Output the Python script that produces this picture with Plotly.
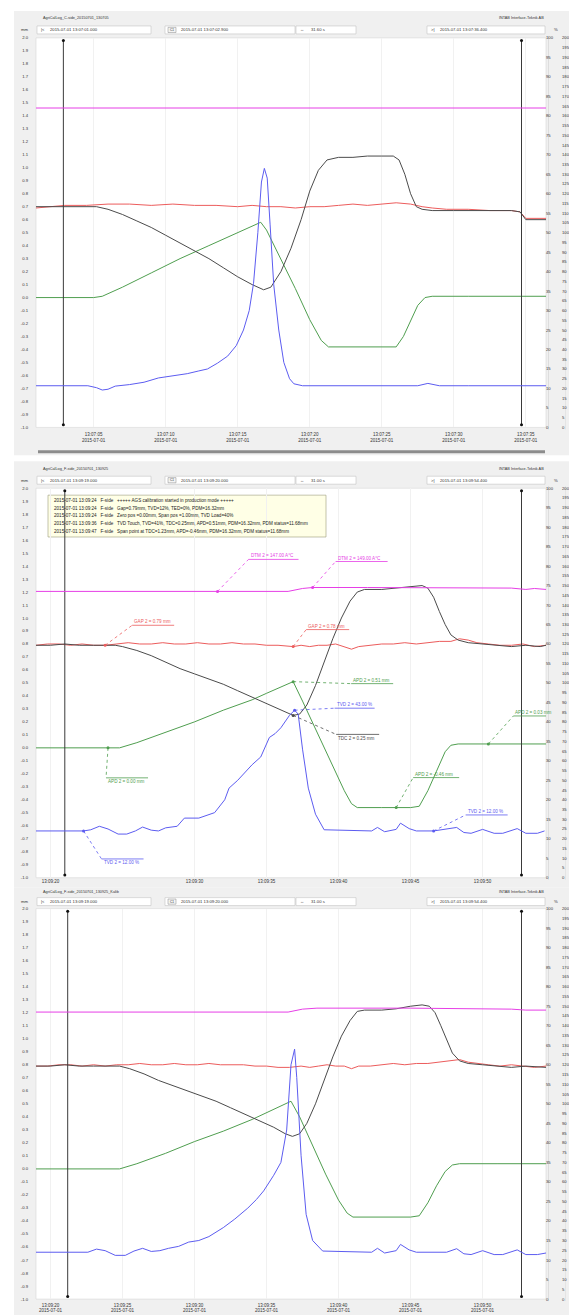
import plotly.graph_objects as go
import pandas as pd

W, H = 577, 1315
FONT = "Liberation Sans, DejaVu Sans, Arial"

# ======================= DATA =======================
# ---- Panel 1 : C-side, seconds after 2015-07-01 13:07:00 ----
p1_pink_t = [1.0, 8.0, 16.0, 24.0, 32.0, 36.4]
p1_pink_c = [164.0, 164.0, 164.0, 164.0, 164.0, 164.0]
p1_red_t = [1.0, 2.0, 3.0, 4.5, 6.0, 7.5, 9.0, 10.5, 12.0, 13.5, 15.0, 16.0, 17.0, 18.0, 19.0,
            20.0, 21.0, 22.0, 23.0, 24.0, 25.0, 26.0, 27.0, 27.8, 28.5, 29.5, 31.0, 32.5, 34.0,
            34.6, 35.0, 35.6, 36.4]
p1_red_mm = [0.69, 0.70, 0.71, 0.71, 0.72, 0.72, 0.71, 0.72, 0.71, 0.71, 0.70, 0.71, 0.70, 0.70,
             0.69, 0.70, 0.70, 0.71, 0.72, 0.71, 0.72, 0.73, 0.72, 0.70, 0.69, 0.68, 0.68, 0.67,
             0.67, 0.66, 0.61, 0.61, 0.61]
p1_black_t = [1.0, 3.0, 5.2, 6.0, 7.0, 8.0, 9.0, 10.0, 11.0, 12.0, 13.0, 14.0, 15.0, 16.0, 16.8,
              17.3, 18.0, 18.7, 19.4, 20.0, 20.6, 21.2, 22.0, 23.0, 24.0, 25.0, 25.8, 26.2, 26.6,
              27.0, 27.4, 27.8, 28.5, 30.0, 32.0, 34.0, 34.6, 35.0, 36.4]
p1_black_mm = [0.70, 0.70, 0.70, 0.68, 0.64, 0.59, 0.54, 0.48, 0.42, 0.36, 0.30, 0.23, 0.16, 0.10,
               0.06, 0.08, 0.20, 0.38, 0.60, 0.82, 0.98, 1.06, 1.08, 1.08, 1.09, 1.09, 1.09, 1.06,
               0.95, 0.80, 0.70, 0.68, 0.67, 0.67, 0.67, 0.67, 0.66, 0.60, 0.60]
p1_green_t = [1.0, 5.0, 5.6, 7.0, 9.0, 11.0, 13.0, 15.0, 16.0, 16.6, 17.0, 18.0, 19.0, 20.0, 20.8,
              21.3, 23.0, 25.0, 26.0, 26.5, 27.0, 27.5, 28.0, 28.5, 31.0, 34.0, 36.4]
p1_green_mm = [0.0, 0.0, 0.01, 0.08, 0.19, 0.30, 0.40, 0.50, 0.55, 0.58, 0.52, 0.30, 0.07, -0.17,
               -0.33, -0.38, -0.38, -0.38, -0.38, -0.30, -0.18, -0.06, 0.0, 0.01, 0.01, 0.01, 0.01]
p1_blue_t = [1.0, 4.6, 5.2, 5.6, 6.0, 6.5, 7.5, 8.5, 9.5, 10.5, 11.5, 12.3, 12.9, 13.6, 14.3, 14.9,
             15.4, 15.8, 16.1, 16.4, 16.65, 16.85, 17.05, 17.25, 17.5, 17.85, 18.2, 18.6, 18.9,
             19.5, 22.0, 24.0, 26.0, 27.5, 28.2, 29.0, 31.0, 34.0, 36.4]
p1_blue_pct = [10.7, 10.7, 10.2, 9.6, 9.8, 10.6, 11.0, 11.6, 12.7, 13.3, 13.8, 14.5, 15.0, 16.5,
               18.3, 21.0, 25.0, 30.0, 37.0, 50.0, 63.0, 66.5, 64.0, 52.0, 36.7, 25.0, 16.7, 12.5,
               11.2, 10.7, 10.7, 10.7, 10.7, 10.7, 11.3, 10.7, 10.7, 10.7, 10.7]
p1_cursor_t = [2.9, 34.7]
p1_tick_t = [5, 10, 15, 20, 25, 30, 35]

# ---- Panel 2 : F-side, seconds after 2015-07-01 13:09:00 ----
p2_pink_t = [19.0, 25.0, 30.0, 36.5, 37.5, 38.2, 42.0, 46.0, 50.0, 52.0, 53.0, 53.6, 54.4]
p2_pink_c = [147.0, 147.0, 147.0, 147.0, 148.5, 149.0, 149.0, 149.0, 149.0, 148.7, 148.0, 148.5, 148.0]
p2_red_t = [19.0, 19.8, 20.6, 21.4, 22.2, 23.0, 23.8, 24.6, 25.4, 26.2, 27.0, 27.8, 28.6, 29.4,
            30.2, 31.0, 31.8, 32.6, 33.4, 34.2, 35.0, 35.8, 36.85, 37.4, 38.0, 38.6, 39.2, 39.8,
            40.4, 40.9, 41.4, 42.2, 43.0, 43.8, 44.6, 45.4, 46.2, 47.0, 47.8, 48.4, 49.0, 49.6,
            50.4, 51.2, 52.0, 52.8, 53.6, 54.4]
p2_red_mm = [0.79, 0.80, 0.80, 0.79, 0.80, 0.79, 0.79, 0.80, 0.81, 0.80, 0.80, 0.81, 0.80, 0.80,
             0.81, 0.80, 0.80, 0.81, 0.80, 0.80, 0.79, 0.79, 0.78, 0.79, 0.78, 0.79, 0.79, 0.80,
             0.78, 0.76, 0.78, 0.79, 0.80, 0.80, 0.81, 0.80, 0.81, 0.82, 0.82, 0.84, 0.83, 0.81,
             0.80, 0.79, 0.79, 0.80, 0.78, 0.79]
p2_black_t = [19.0, 20.0, 21.0, 22.0, 23.0, 23.8, 24.5, 25.0, 26.0, 27.0, 28.0, 29.0, 30.0, 31.0,
              32.0, 33.0, 34.0, 35.0, 36.0, 36.85, 37.3, 37.8, 38.4, 39.0, 39.6, 40.2, 40.8, 41.3,
              41.8, 43.0, 44.0, 45.0, 45.8, 46.2, 46.6, 47.0, 47.4, 47.8, 48.3, 49.0, 50.0, 51.0,
              52.0, 53.0, 54.0, 54.4]
p2_black_mm = [0.79, 0.79, 0.80, 0.79, 0.79, 0.79, 0.79, 0.78, 0.75, 0.71, 0.66, 0.61, 0.57, 0.53,
               0.49, 0.44, 0.39, 0.34, 0.29, 0.25, 0.26, 0.33, 0.48, 0.66, 0.84, 1.00, 1.13, 1.20,
               1.22, 1.22, 1.23, 1.24, 1.25, 1.23, 1.16, 1.05, 0.95, 0.87, 0.83, 0.81, 0.80, 0.79,
               0.78, 0.79, 0.78, 0.79]
p2_green_t = [19.0, 24.0, 24.8, 26.0, 28.0, 30.0, 32.0, 34.0, 35.0, 36.0, 36.85, 37.5, 38.5, 39.5,
              40.4, 40.9, 41.3, 43.0, 44.0, 45.0, 45.6, 46.2, 46.8, 47.4, 47.8, 48.3, 50.4, 54.4]
p2_green_mm = [0.0, 0.0, 0.0, 0.04, 0.12, 0.20, 0.29, 0.37, 0.42, 0.47, 0.51, 0.36, 0.12, -0.11,
               -0.33, -0.43, -0.46, -0.46, -0.46, -0.46, -0.45, -0.33, -0.18, -0.03, 0.02, 0.03,
               0.03, 0.03]
p2_blue_t = [19.0, 22.3, 22.8, 23.4, 24.0, 24.7, 25.3, 25.9, 26.4, 27.0, 27.5, 28.0, 28.8, 29.3,
             30.3, 30.8, 31.4, 32.1, 32.4, 33.0, 33.5, 34.0, 34.6, 35.2, 35.6, 36.0, 36.6, 36.95,
             37.2, 37.5, 37.9, 38.4, 39.0, 42.3, 42.7, 43.2, 44.0, 44.3, 44.9, 45.4, 46.6, 48.2,
             48.7, 49.2, 50.0, 50.8, 51.4, 52.4, 53.0, 53.8, 54.3]
p2_blue_pct = [12.0, 12.0, 12.3, 13.2, 12.5, 11.2, 11.2, 12.0, 13.0, 12.2, 12.0, 12.8, 13.2, 15.3,
               15.3, 16.0, 16.7, 20.0, 23.0, 25.0, 27.0, 29.0, 31.0, 36.0, 37.0, 38.5, 41.7, 43.0,
               42.0, 33.0, 23.0, 16.3, 12.3, 12.0, 12.9, 11.8, 12.4, 14.0, 12.6, 12.0, 12.0, 12.9,
               11.6, 11.4, 12.4, 11.4, 11.4, 12.6, 11.4, 11.4, 12.0]
p2_cursor_t = [21.0, 52.7]
p2_tick_t = [20, 30, 35, 40, 45, 50]
# cursor read-outs shown in panel 2
p2_read_series = ["pink", "pink", "red", "red", "green", "blue", "black", "green", "green", "green", "blue", "blue"]
p2_read_t = [31.6, 38.2, 23.8, 36.85, 36.85, 36.95, 36.85, 24.0, 44.0, 50.4, 22.3, 46.6]
p2_read_v = [147.0, 149.0, 0.79, 0.78, 0.51, 43.0, 0.25, 0.00, -0.46, 0.03, 12.0, 12.0]
p2_log_lines = [
    "2015-07-01 13:09:24   F-side   +++++ AGS calibration started in production mode +++++",
    "2015-07-01 13:09:24   F-side   Gap=0.79mm, TVD=12%, TED=0%, PDM=16.32mm",
    "2015-07-01 13:09:24   F-side   Zero pos =0.00mm, Span pos =1.00mm, TVD Load=40%",
    "2015-07-01 13:09:36   F-side   TVD Touch, TVD=41%, TDC=0.25mm, APD=0.51mm, PDM=16.32mm, PDM status=11.68mm",
    "2015-07-01 13:09:47   F-side   Span point at TDC=1.23mm, APD=-0.46mm, PDM=16.32mm, PDM status=11.68mm",
]

# ---- Panel 3 : F-side, seconds after 2015-07-01 13:09:00 ----
p3_pink_t = [19.0, 25.0, 30.0, 36.5, 37.5, 38.5, 45.0, 50.0, 52.0, 53.0, 54.4]
p3_pink_c = [147.0, 147.0, 147.0, 147.0, 148.5, 149.0, 149.0, 148.8, 148.5, 148.0, 148.0]
p3_red_t = [19.0, 19.8, 20.6, 21.4, 22.2, 23.0, 23.8, 24.6, 25.4, 26.2, 27.0, 27.8, 28.6, 29.4,
            30.2, 31.0, 31.8, 32.6, 33.4, 34.2, 35.0, 35.8, 36.6, 37.4, 38.0, 38.6, 39.2, 39.8,
            40.4, 40.9, 41.4, 42.2, 43.0, 43.8, 44.6, 45.4, 46.2, 47.0, 47.8, 48.4, 49.0, 49.6,
            50.4, 51.2, 52.0, 52.8, 53.6, 54.4]
p3_red_mm = [0.79, 0.79, 0.80, 0.80, 0.79, 0.80, 0.79, 0.80, 0.80, 0.81, 0.80, 0.80, 0.81, 0.80,
             0.80, 0.81, 0.80, 0.80, 0.80, 0.79, 0.79, 0.78, 0.78, 0.79, 0.78, 0.79, 0.80, 0.79,
             0.79, 0.77, 0.79, 0.79, 0.80, 0.81, 0.80, 0.81, 0.81, 0.82, 0.83, 0.84, 0.82, 0.81,
             0.80, 0.79, 0.80, 0.79, 0.78, 0.79]
p3_black_t = [19.0, 20.0, 21.0, 22.0, 23.0, 24.0, 24.8, 25.5, 26.5, 27.5, 28.5, 29.5, 30.5, 31.5,
              32.5, 33.5, 34.5, 35.5, 36.3, 36.8, 37.3, 37.8, 38.4, 39.0, 39.6, 40.2, 40.8, 41.3,
              41.8, 43.0, 44.0, 45.0, 45.8, 46.3, 46.7, 47.1, 47.5, 47.9, 48.4, 49.0, 50.0, 51.0,
              52.0, 53.0, 54.4]
p3_black_mm = [0.79, 0.79, 0.80, 0.79, 0.79, 0.79, 0.79, 0.77, 0.73, 0.68, 0.64, 0.60, 0.56, 0.52,
               0.47, 0.42, 0.37, 0.32, 0.27, 0.25, 0.27, 0.35, 0.50, 0.68, 0.86, 1.02, 1.14, 1.21,
               1.22, 1.22, 1.23, 1.25, 1.26, 1.25, 1.20, 1.10, 0.99, 0.89, 0.83, 0.81, 0.80, 0.79,
               0.78, 0.79, 0.78]
p3_green_t = [19.0, 24.0, 24.8, 26.0, 28.0, 30.0, 32.0, 34.0, 35.0, 36.0, 36.7, 37.3, 38.2, 39.1,
              40.0, 40.6, 41.0, 43.0, 45.0, 45.6, 46.2, 46.8, 47.4, 47.9, 48.4, 51.0, 54.4]
p3_green_mm = [0.0, 0.0, 0.0, 0.04, 0.12, 0.21, 0.29, 0.38, 0.43, 0.48, 0.52, 0.40, 0.18, -0.04,
               -0.24, -0.34, -0.37, -0.37, -0.37, -0.36, -0.26, -0.13, -0.02, 0.03, 0.04, 0.04, 0.04]
p3_blue_t = [19.0, 22.6, 23.2, 23.8, 24.5, 25.2, 25.8, 26.4, 27.0, 27.6, 28.2, 28.9, 29.6, 30.3,
             31.0, 32.0, 32.8, 33.7, 34.3, 34.8, 35.5, 36.0, 36.4, 36.7, 36.95, 37.1, 37.4, 37.75,
             38.2, 38.9, 42.3, 42.7, 43.2, 44.0, 44.3, 44.9, 45.4, 47.5, 48.2, 48.7, 49.2, 50.0,
             50.8, 51.4, 52.4, 53.0, 53.8, 54.4]
p3_blue_pct = [12.0, 12.0, 12.8, 12.4, 11.2, 11.2, 12.3, 13.0, 12.2, 12.4, 13.0, 13.5, 14.6, 15.0,
               16.0, 18.3, 20.5, 23.3, 25.5, 27.7, 31.7, 35.0, 43.3, 60.0, 64.0, 56.7, 36.7, 21.7,
               15.0, 12.3, 12.0, 13.0, 11.8, 12.4, 14.0, 12.6, 12.0, 12.0, 12.9, 11.6, 11.4, 12.4,
               11.4, 11.4, 12.6, 11.4, 11.4, 11.8]
p3_cursor_t = [21.2, 52.7]
p3_tick_t = [20, 25, 30, 35, 40, 45, 50]

# axis tick labels
mm_ticks = [round(-1.0 + 0.1 * i, 1) for i in range(31)]
pct_ticks = list(range(0, 101, 5))
degc_ticks = list(range(0, 201, 5))

titles = ["AgriCalLog_C-side_20150701_130705", "AgriCalLog_F-side_20150701_130925",
          "AgriCalLog_F-side_20150701_130925_Kalib"]
headers = [
    ["2015-07-01 13:07:01.000", "2015-07-01 13:07:02.900", "31.60 s", "2015-07-01 13:07:36.400"],
    ["2015-07-01 13:09:19.000", "2015-07-01 13:09:20.000", "31.00 s", "2015-07-01 13:09:54.400"],
    ["2015-07-01 13:09:19.000", "2015-07-01 13:09:20.000", "31.00 s", "2015-07-01 13:09:54.400"],
]
company = "INTAB Interface-Teknik AB"

# ======================= STYLE / LAYOUT =======================
COL = dict(pink="#e63fe6", red="#ec5c5c", black="#4b4b4b", green="#4f9e4f", blue="#5c5cf0")
SER_NAME = dict(pink="DTM 2", red="GAP 2", black="TDC 2", green="APD 2", blue="TVD 2")
SER_UNIT = dict(pink="A°C", red="mm", black="mm", green="mm", blue="%")
PLOT_L, PLOT_R = 28, 538

geo = [
    dict(base="2015-07-01 13:07:00", rng=(1.0, 36.4), bg=(6, 0, 577, 446), title_y=7, head_y=19,
         top=27, bot=418, standoff=3, two_line=True, scroll=True),
    dict(base="2015-07-01 13:09:00", rng=(19.0, 54.4), bg=(6, 452, 577, 880), title_y=460, head_y=471,
         top=479, bot=870, standoff=0, two_line=False, scroll=False),
    dict(base="2015-07-01 13:09:00", rng=(19.0, 54.4), bg=(6, 880, 577, 1315), title_y=884, head_y=894,
         top=901, bot=1293, standoff=2, two_line=True, scroll=False),
]
series = [
    dict(pink=(p1_pink_t, p1_pink_c), red=(p1_red_t, p1_red_mm), green=(p1_green_t, p1_green_mm),
         blue=(p1_blue_t, p1_blue_pct), black=(p1_black_t, p1_black_mm)),
    dict(pink=(p2_pink_t, p2_pink_c), red=(p2_red_t, p2_red_mm), green=(p2_green_t, p2_green_mm),
         blue=(p2_blue_t, p2_blue_pct), black=(p2_black_t, p2_black_mm)),
    dict(pink=(p3_pink_t, p3_pink_c), red=(p3_red_t, p3_red_mm), green=(p3_green_t, p3_green_mm),
         blue=(p3_blue_t, p3_blue_pct), black=(p3_black_t, p3_black_mm)),
]
cursors = [p1_cursor_t, p2_cursor_t, p3_cursor_t]
tick_secs = [p1_tick_t, p2_tick_t, p3_tick_t]


def PX(x):
    return x / W


def PY(y):
    return 1 - y / H


def T(base, secs):
    b = pd.Timestamp(base)
    return [(b + pd.Timedelta(seconds=float(s))).strftime("%Y-%m-%d %H:%M:%S.%f")[:-3] for s in secs]


fig = go.Figure()
shapes, annos = [], []
layout = {}


def rect(x0, y0, x1, y1, fill, line=None, lw=0):
    shapes.append(dict(type="rect", xref="paper", yref="paper", x0=PX(x0), x1=PX(x1), y0=PY(y1), y1=PY(y0),
                       fillcolor=fill, line=dict(color=line or fill, width=lw), layer="below"))


def vline(x, y0, y1, color, w=1):
    shapes.append(dict(type="line", xref="paper", yref="paper", x0=PX(x), x1=PX(x), y0=PY(y0), y1=PY(y1),
                       line=dict(color=color, width=w), layer="below"))


def text(x, y, s, size=4.2, color="#333", anchor="left"):
    annos.append(dict(xref="paper", yref="paper", x=PX(x), y=PY(y), text=s, showarrow=False,
                      xanchor=anchor, yanchor="middle", font=dict(family=FONT, size=size, color=color)))


for k, g in enumerate(geo):
    xn = "x" if k == 0 else f"x{k+1}"
    ymm = "y" if k == 0 else f"y{3*k+1}"
    ypc, ydc = f"y{3*k+2}", f"y{3*k+3}"
    lx = "xaxis" if k == 0 else f"xaxis{k+1}"
    lmm = "yaxis" if k == 0 else f"yaxis{3*k+1}"
    lpc, ldc = f"yaxis{3*k+2}", f"yaxis{3*k+3}"
    dom_y = [PY(g["bot"]), PY(g["top"])]

    # backgrounds
    rect(*g["bg"], "#f0f0f0")
    rect(PLOT_L, g["top"], PLOT_R, g["bot"], "#ffffff", "#d6d6d6", 0.6)
    vline(540.5, g["top"] - 2, g["bot"] + 2, "#d0d0d0", 0.6)
    vline(557.5, g["top"] - 2, g["bot"] + 2, "#dcdcdc", 0.6)
    if g["scroll"]:
        rect(30, 441, 537, 444, "#8c8c8c")

    # title row
    text(33, g["title_y"], titles[k], 3.8, "#333")
    text(538, g["title_y"], company, 3.8, "#333", "right")
    # header row
    hy = g["head_y"]
    h = headers[k]
    text(16, hy, "mm", 4.2, "#333", "center")
    for (bx0, bx1) in [(29, 143), (157, 287), (288, 348), (419, 537)]:
        rect(bx0, hy - 4, bx1, hy + 4, "#ffffff", "#c4c4c4", 0.6)
    text(31, hy, "|&lt;", 4.2)
    text(40, hy, h[0], 4.2)
    rect(160, hy - 2.6, 168, hy + 2.6, "#f4f4f4", "#888", 0.5)
    text(164, hy, "C1", 3.2, "#333", "center")
    text(171, hy, h[1], 4.2)
    text(290, hy, "↔", 4.2)
    text(301, hy, h[2], 4.2)
    text(421, hy, "&gt;|", 4.2)
    text(430, hy, h[3], 4.2)
    text(548, hy, "%", 4.2, "#333", "center")
    text(566, hy, "A°C", 4.2, "#333", "center")

    # axes
    tv = T(g["base"], tick_secs[k])
    if g["two_line"]:
        tt = [f"{s[11:19]}<br>{s[:10]}" for s in tv]
    else:
        tt = [s[11:19] for s in tv]
    layout[lx] = dict(domain=[PX(PLOT_L), PX(PLOT_R)], anchor=ymm, type="date",
                      range=T(g["base"], list(g["rng"])), tickvals=tv, ticktext=tt,
                      showgrid=True, gridcolor="#f1f1f1", gridwidth=1, zeroline=False, showline=False,
                      ticks="", ticklabelstandoff=g["standoff"],
                      tickfont=dict(family=FONT, size=4.5, color="#333"), fixedrange=True)
    layout[lmm] = dict(domain=dom_y, anchor=xn, range=[-1, 2], tickvals=mm_ticks,
                       ticktext=[f"{v:.1f}" for v in mm_ticks], showgrid=False, zeroline=False,
                       showline=False, ticks="", ticklabelstandoff=7,
                       tickfont=dict(family=FONT, size=4.2, color="#333"))
    layout[lpc] = dict(overlaying=ymm, anchor="free", position=PX(537), side="right", range=[0, 100],
                       tickvals=pct_ticks, ticktext=[str(v) for v in pct_ticks], showgrid=False,
                       zeroline=False, showline=False, ticks="",
                       tickfont=dict(family=FONT, size=4.2, color="#333"))
    layout[ldc] = dict(overlaying=ymm, anchor="free", position=PX(553), side="right", range=[0, 200],
                       tickvals=degc_ticks, ticktext=[str(v) for v in degc_ticks], showgrid=False,
                       zeroline=False, showline=False, ticks="",
                       tickfont=dict(family=FONT, size=4.2, color="#333"))

    axis_of = dict(pink=ydc, red=ymm, black=ymm, green=ymm, blue=ypc)
    for name in ["pink", "green", "blue", "red", "black"]:
        t, v = series[k][name]
        fig.add_trace(go.Scatter(x=T(g["base"], t), y=v, mode="lines", xaxis=xn, yaxis=axis_of[name],
                                 line=dict(color=COL[name], width=1), showlegend=False, hoverinfo="skip"))
    # cursors
    for c in cursors[k]:
        fig.add_trace(go.Scatter(x=T(g["base"], [c, c]), y=[1.98, -0.98], mode="lines+markers",
                                 xaxis=xn, yaxis=ymm, line=dict(color="#3a3a3a", width=1),
                                 marker=dict(size=3, color="#111"), showlegend=False, hoverinfo="skip"))

    if k == 1:
        # event log box
        rect(40, 486, 318, 528, "#ffffe6", "#9a9a7a", 0.6)
        for i, s in enumerate(p2_log_lines):
            text(44, 491 + 7.9 * i, s, 4.6, "#222")
        # cursor read-outs (offsets in px: dx right, dy up, underline width, text above?)
        offs = [(31, 32, 50, True), (23, 26, 52, True), (27, 20, 42, True), (13, 17, 43, True),
                (58, -2, 42, True), (40, 2, 40, True), (43, -19, 43, False), (-2, -30, 42, False),
                (17, 30, 46, True), (25, 28, 42, True), (18, -28, 42, False), (32, 16, 42, True)]
        for sname, t, v, (dx, dy, wd, above) in zip(p2_read_series, p2_read_t, p2_read_v, offs):
            yr = axis_of[sname]
            xt = T(g["base"], [t])[0]
            col = COL[sname]
            fig.add_trace(go.Scatter(x=[xt], y=[v], mode="markers", xaxis=xn, yaxis=yr,
                                     marker=dict(size=3, color=col), showlegend=False, hoverinfo="skip"))
            shapes.append(dict(type="line", xref=xn, yref=yr, xsizemode="pixel", ysizemode="pixel",
                               xanchor=xt, yanchor=v, x0=0, y0=0, x1=dx, y1=dy,
                               line=dict(color=col, width=0.8, dash="dot")))
            shapes.append(dict(type="line", xref=xn, yref=yr, xsizemode="pixel", ysizemode="pixel",
                               xanchor=xt, yanchor=v, x0=dx, y0=dy, x1=dx + wd, y1=dy,
                               line=dict(color=col, width=0.8)))
            unit = SER_UNIT[sname]
            lbl = f"{SER_NAME[sname]} = {v:.2f} {unit}"
            annos.append(dict(xref=xn, yref=yr, x=xt, y=v, text=lbl, showarrow=False,
                              xanchor="left", yanchor="bottom" if above else "top",
                              xshift=dx + 1, yshift=dy + (0 if above else -0.5), borderpad=0,
                              font=dict(family=FONT, size=4.6, color=col)))

fig.update_layout(width=W, height=H, margin=dict(l=0, r=0, t=0, b=0), paper_bgcolor="#ffffff",
                  plot_bgcolor="rgba(0,0,0,0)", shapes=shapes, annotations=annos, showlegend=False,
                  **layout)
fig.write_html("out.html")
